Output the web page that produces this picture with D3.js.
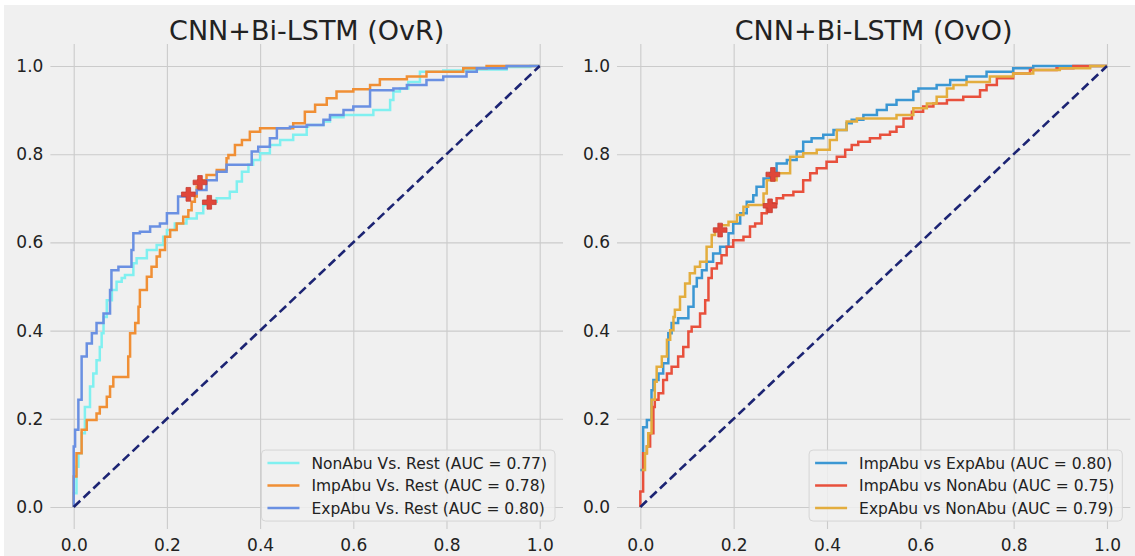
<!DOCTYPE html>
<html><head><meta charset="utf-8">
<script src="https://cdn.jsdelivr.net/npm/d3@7"></script>
<style>body{margin:0;background:#fff} svg{display:block} text{font-family:"DejaVu Sans",sans-serif}</style>
</head><body><svg id="c" width="1135" height="556"></svg>
<script>
// ---------- data ----------
const tickValues = [0, 0.2, 0.4, 0.6, 0.8, 1.0];
const tickLabels = ["0.0", "0.2", "0.4", "0.6", "0.8", "1.0"];
const titles = ["CNN+Bi-LSTM (OvR)", "CNN+Bi-LSTM (OvO)"];

const ovrNames = ["NonAbu Vs. Rest", "ImpAbu Vs. Rest", "ExpAbu Vs. Rest"];
const ovrAUC = [0.77, 0.78, 0.80];
const ovrColors = ["#80f0f0", "#f08f35", "#6a90e2"];

const ovoNames = ["ImpAbu vs ExpAbu", "ImpAbu vs NonAbu", "ExpAbu vs NonAbu"];
const ovoAUC = [0.80, 0.75, 0.79];
const ovoColors = ["#3b97d3", "#e8503c", "#e3ad3e"];

// OvR ROC curves [fpr, tpr]
const ovrNonAbu = [[0,0],[0.006,0.031],[0.010,0.091],[0.017,0.122],[0.024,0.167],[0.035,0.227],[0.042,0.273],[0.049,0.303],[0.056,0.333],[0.060,0.363],[0.064,0.394],[0.071,0.431],[0.082,0.469],[0.092,0.492],[0.103,0.511],[0.110,0.519],[0.128,0.526],[0.135,0.553],[0.157,0.564],[0.178,0.583],[0.192,0.594],[0.200,0.613],[0.217,0.628],[0.242,0.643],[0.264,0.654],[0.278,0.666],[0.292,0.685],[0.307,0.692],[0.335,0.700],[0.350,0.715],[0.361,0.738],[0.375,0.760],[0.385,0.776],[0.400,0.787],[0.421,0.802],[0.443,0.821],[0.471,0.832],[0.500,0.844],[0.503,0.862],[0.536,0.866],[0.550,0.874],[0.579,0.884],[0.643,0.889],[0.679,0.900],[0.686,0.923],[0.700,0.942],[0.718,0.949],[0.743,0.964],[0.793,0.987],[0.843,0.990],[0.929,0.992],[0.980,0.998],[1,1]];
const ovrImpAbu = [[0,0],[0.006,0.069],[0.017,0.122],[0.028,0.175],[0.031,0.197],[0.049,0.197],[0.056,0.212],[0.071,0.227],[0.078,0.250],[0.085,0.273],[0.092,0.295],[0.117,0.295],[0.121,0.341],[0.132,0.394],[0.139,0.417],[0.142,0.454],[0.157,0.492],[0.167,0.522],[0.178,0.545],[0.185,0.568],[0.196,0.583],[0.207,0.613],[0.221,0.628],[0.235,0.643],[0.246,0.658],[0.253,0.673],[0.260,0.692],[0.264,0.704],[0.267,0.726],[0.285,0.741],[0.307,0.753],[0.328,0.764],[0.332,0.791],[0.346,0.798],[0.361,0.821],[0.378,0.832],[0.400,0.851],[0.418,0.859],[0.471,0.859],[0.496,0.870],[0.518,0.896],[0.543,0.912],[0.564,0.927],[0.600,0.942],[0.636,0.947],[0.657,0.957],[0.715,0.970],[0.757,0.976],[0.836,0.987],[0.886,0.995],[0.922,1.0],[1,1]];
const ovrExpAbu = [[0,0],[0,0.100],[0.003,0.137],[0.010,0.175],[0.017,0.243],[0.028,0.341],[0.039,0.371],[0.049,0.394],[0.064,0.417],[0.078,0.439],[0.081,0.492],[0.096,0.537],[0.124,0.545],[0.128,0.583],[0.142,0.621],[0.164,0.624],[0.185,0.636],[0.200,0.643],[0.224,0.666],[0.239,0.704],[0.264,0.711],[0.285,0.719],[0.307,0.741],[0.328,0.760],[0.357,0.776],[0.382,0.776],[0.396,0.806],[0.421,0.817],[0.436,0.836],[0.464,0.859],[0.500,0.862],[0.536,0.866],[0.550,0.878],[0.579,0.889],[0.600,0.900],[0.625,0.908],[0.636,0.908],[0.639,0.945],[0.686,0.945],[0.715,0.949],[0.757,0.957],[0.793,0.968],[0.843,0.976],[0.865,0.987],[0.929,0.995],[0.936,1.0],[1,1]];

// OvO ROC curves [fpr, tpr]
const ovoImpExp = [[0,0.084],[0.006,0.084],[0.006,0.159],[0.014,0.181],[0.024,0.197],[0.028,0.265],[0.039,0.288],[0.049,0.303],[0.060,0.326],[0.067,0.394],[0.081,0.417],[0.103,0.428],[0.114,0.454],[0.121,0.500],[0.132,0.519],[0.142,0.537],[0.156,0.556],[0.171,0.575],[0.189,0.590],[0.199,0.621],[0.214,0.643],[0.228,0.666],[0.242,0.692],[0.249,0.707],[0.264,0.726],[0.278,0.745],[0.292,0.757],[0.314,0.779],[0.335,0.787],[0.349,0.806],[0.367,0.828],[0.392,0.836],[0.414,0.844],[0.442,0.855],[0.453,0.870],[0.478,0.878],[0.507,0.889],[0.528,0.900],[0.549,0.912],[0.585,0.923],[0.596,0.942],[0.635,0.949],[0.664,0.957],[0.699,0.968],[0.742,0.976],[0.799,0.987],[0.842,0.995],[0.906,1.0],[1,1]];
const ovoImpNon = [[0,0],[0.006,0.035],[0.014,0.122],[0.021,0.137],[0.028,0.167],[0.031,0.227],[0.039,0.243],[0.049,0.258],[0.057,0.288],[0.067,0.303],[0.081,0.318],[0.092,0.341],[0.103,0.363],[0.110,0.398],[0.128,0.409],[0.139,0.439],[0.146,0.469],[0.153,0.519],[0.164,0.541],[0.174,0.553],[0.185,0.571],[0.199,0.590],[0.221,0.605],[0.235,0.613],[0.246,0.636],[0.260,0.643],[0.271,0.666],[0.278,0.685],[0.292,0.689],[0.306,0.700],[0.328,0.707],[0.349,0.715],[0.364,0.741],[0.378,0.757],[0.399,0.768],[0.421,0.783],[0.439,0.794],[0.453,0.810],[0.467,0.821],[0.492,0.828],[0.514,0.836],[0.535,0.844],[0.549,0.851],[0.564,0.862],[0.582,0.881],[0.606,0.896],[0.628,0.908],[0.657,0.915],[0.692,0.923],[0.728,0.930],[0.742,0.945],[0.764,0.957],[0.799,0.972],[0.835,0.983],[0.892,0.991],[0.928,0.995],[0.990,1.0],[1,1]];
const ovoExpNon = [[0.003,0.084],[0.010,0.084],[0.014,0.122],[0.017,0.137],[0.024,0.167],[0.031,0.243],[0.035,0.284],[0.046,0.318],[0.057,0.341],[0.064,0.379],[0.071,0.401],[0.074,0.431],[0.085,0.447],[0.096,0.477],[0.106,0.507],[0.117,0.530],[0.128,0.545],[0.142,0.556],[0.153,0.590],[0.160,0.617],[0.171,0.628],[0.189,0.639],[0.207,0.647],[0.221,0.662],[0.231,0.681],[0.264,0.685],[0.271,0.711],[0.292,0.741],[0.321,0.757],[0.349,0.794],[0.378,0.802],[0.406,0.810],[0.421,0.832],[0.442,0.855],[0.464,0.874],[0.492,0.881],[0.549,0.881],[0.585,0.889],[0.614,0.904],[0.635,0.915],[0.657,0.930],[0.671,0.949],[0.699,0.957],[0.749,0.964],[0.799,0.976],[0.842,0.983],[0.899,0.991],[0.964,0.995],[0.990,1.0],[1,1]];

// optimal-threshold markers [fpr, tpr]
const ovrMarkers = [[0.246,0.709],[0.271,0.736],[0.291,0.691]];
const ovoMarkers = [[0.171,0.628],[0.284,0.754],[0.278,0.683]];

const diagonal = [[0,0],[1,1]];

// ---------- drawing ----------
const svg = d3.select("#c");
svg.append("rect").attr("x",0).attr("y",0).attr("width",1135).attr("height",556).attr("fill","#ffffff");
svg.append("rect").attr("x",4).attr("y",5).attr("width",1131).attr("height",551).attr("fill","#f0f0f0");

const yRange = [529.05, 43.95];
const panels = [
  {xr:[50.4, 563.0], title:titles[0], curves:[ovrNonAbu, ovrImpAbu, ovrExpAbu], names:ovrNames, auc:ovrAUC, colors:ovrColors, markers:ovrMarkers},
  {xr:[617.0, 1130.3], title:titles[1], curves:[ovoImpExp, ovoImpNon, ovoExpNon], names:ovoNames, auc:ovoAUC, colors:ovoColors, markers:ovoMarkers}
];

panels.forEach(p => {
  const x = d3.scaleLinear().domain([-0.05, 1.05]).range(p.xr);
  const y = d3.scaleLinear().domain([-0.05, 1.05]).range(yRange);
  const g = svg.append("g");
  const W = p.xr[1]-p.xr[0], H = yRange[0]-yRange[1];

  // axes with grid
  const xa = g.append("g").attr("transform",`translate(0,${yRange[0]})`)
    .call(d3.axisBottom(x).tickValues(tickValues).tickFormat((d,i)=>tickLabels[i]).tickSize(-H).tickPadding(10));
  const ya = g.append("g").attr("transform",`translate(${p.xr[0]},0)`)
    .call(d3.axisLeft(y).tickValues(tickValues).tickFormat((d,i)=>tickLabels[i]).tickSize(-W).tickPadding(7));
  [xa, ya].forEach(a => {
    a.select(".domain").remove();
    a.selectAll(".tick line").attr("stroke","#cbcbcb").attr("stroke-width",1.1);
    a.selectAll(".tick text").attr("font-size",17).attr("fill","#222").attr("font-family","DejaVu Sans");
  });

  // title
  g.append("text").attr("x",(p.xr[0]+p.xr[1])/2).attr("y",40).attr("text-anchor","middle")
    .attr("font-size",27).attr("fill","#222").text(p.title);

  // curves
  const line = d3.line().x(d=>x(d[0])).y(d=>y(d[1])).curve(d3.curveStepBefore);
  p.curves.forEach((c,i) => {
    g.append("path").datum(c).attr("d",line).attr("fill","none")
      .attr("stroke",p.colors[i]).attr("stroke-width",2.5).attr("stroke-linejoin","miter");
  });

  // markers
  const sym = d3.symbol().type(d3.symbolCross).size(105);
  g.selectAll("path.mk").data(p.markers).join("path").attr("class","mk")
    .attr("transform",d=>`translate(${x(d[0])},${y(d[1])})`).attr("d",sym)
    .attr("fill","#e0473a").attr("stroke","#c43c32").attr("stroke-width",0.8);

  // diagonal
  g.append("path").datum(diagonal).attr("d",d3.line().x(d=>x(d[0])).y(d=>y(d[1])))
    .attr("fill","none").attr("stroke","#1c2473").attr("stroke-width",2.6).attr("stroke-dasharray","9,4.5");

  // legend
  const lg = g.append("g");
  const labels = p.names.map((n,i)=>`${n} (AUC = ${p.auc[i].toFixed(2)})`);
  const box = lg.append("rect");
  const texts = labels.map((t,i)=> lg.append("text").attr("font-size",15.5).attr("fill","#222").text(t));
  const maxLen = d3.max(texts, t => t.node().getComputedTextLength());
  const bw = 50 + maxLen + 8, bh = 71;
  const bx = p.xr[1] - 8 - bw, by = yRange[0] - 8 - bh;
  box.attr("x",bx).attr("y",by).attr("width",bw).attr("height",bh).attr("rx",4)
    .attr("fill","#f0f0f0").attr("fill-opacity",0.85).attr("stroke","#d6d6d6").attr("stroke-width",1);
  labels.forEach((t,i) => {
    const cy = by + 13 + i*22.5;
    lg.append("line").attr("x1",bx+6).attr("x2",bx+38).attr("y1",cy).attr("y2",cy)
      .attr("stroke",p.colors[i]).attr("stroke-width",2.6);
    texts[i].attr("x",bx+50).attr("y",cy).attr("dy","0.36em");
  });
});
</script></body></html>
